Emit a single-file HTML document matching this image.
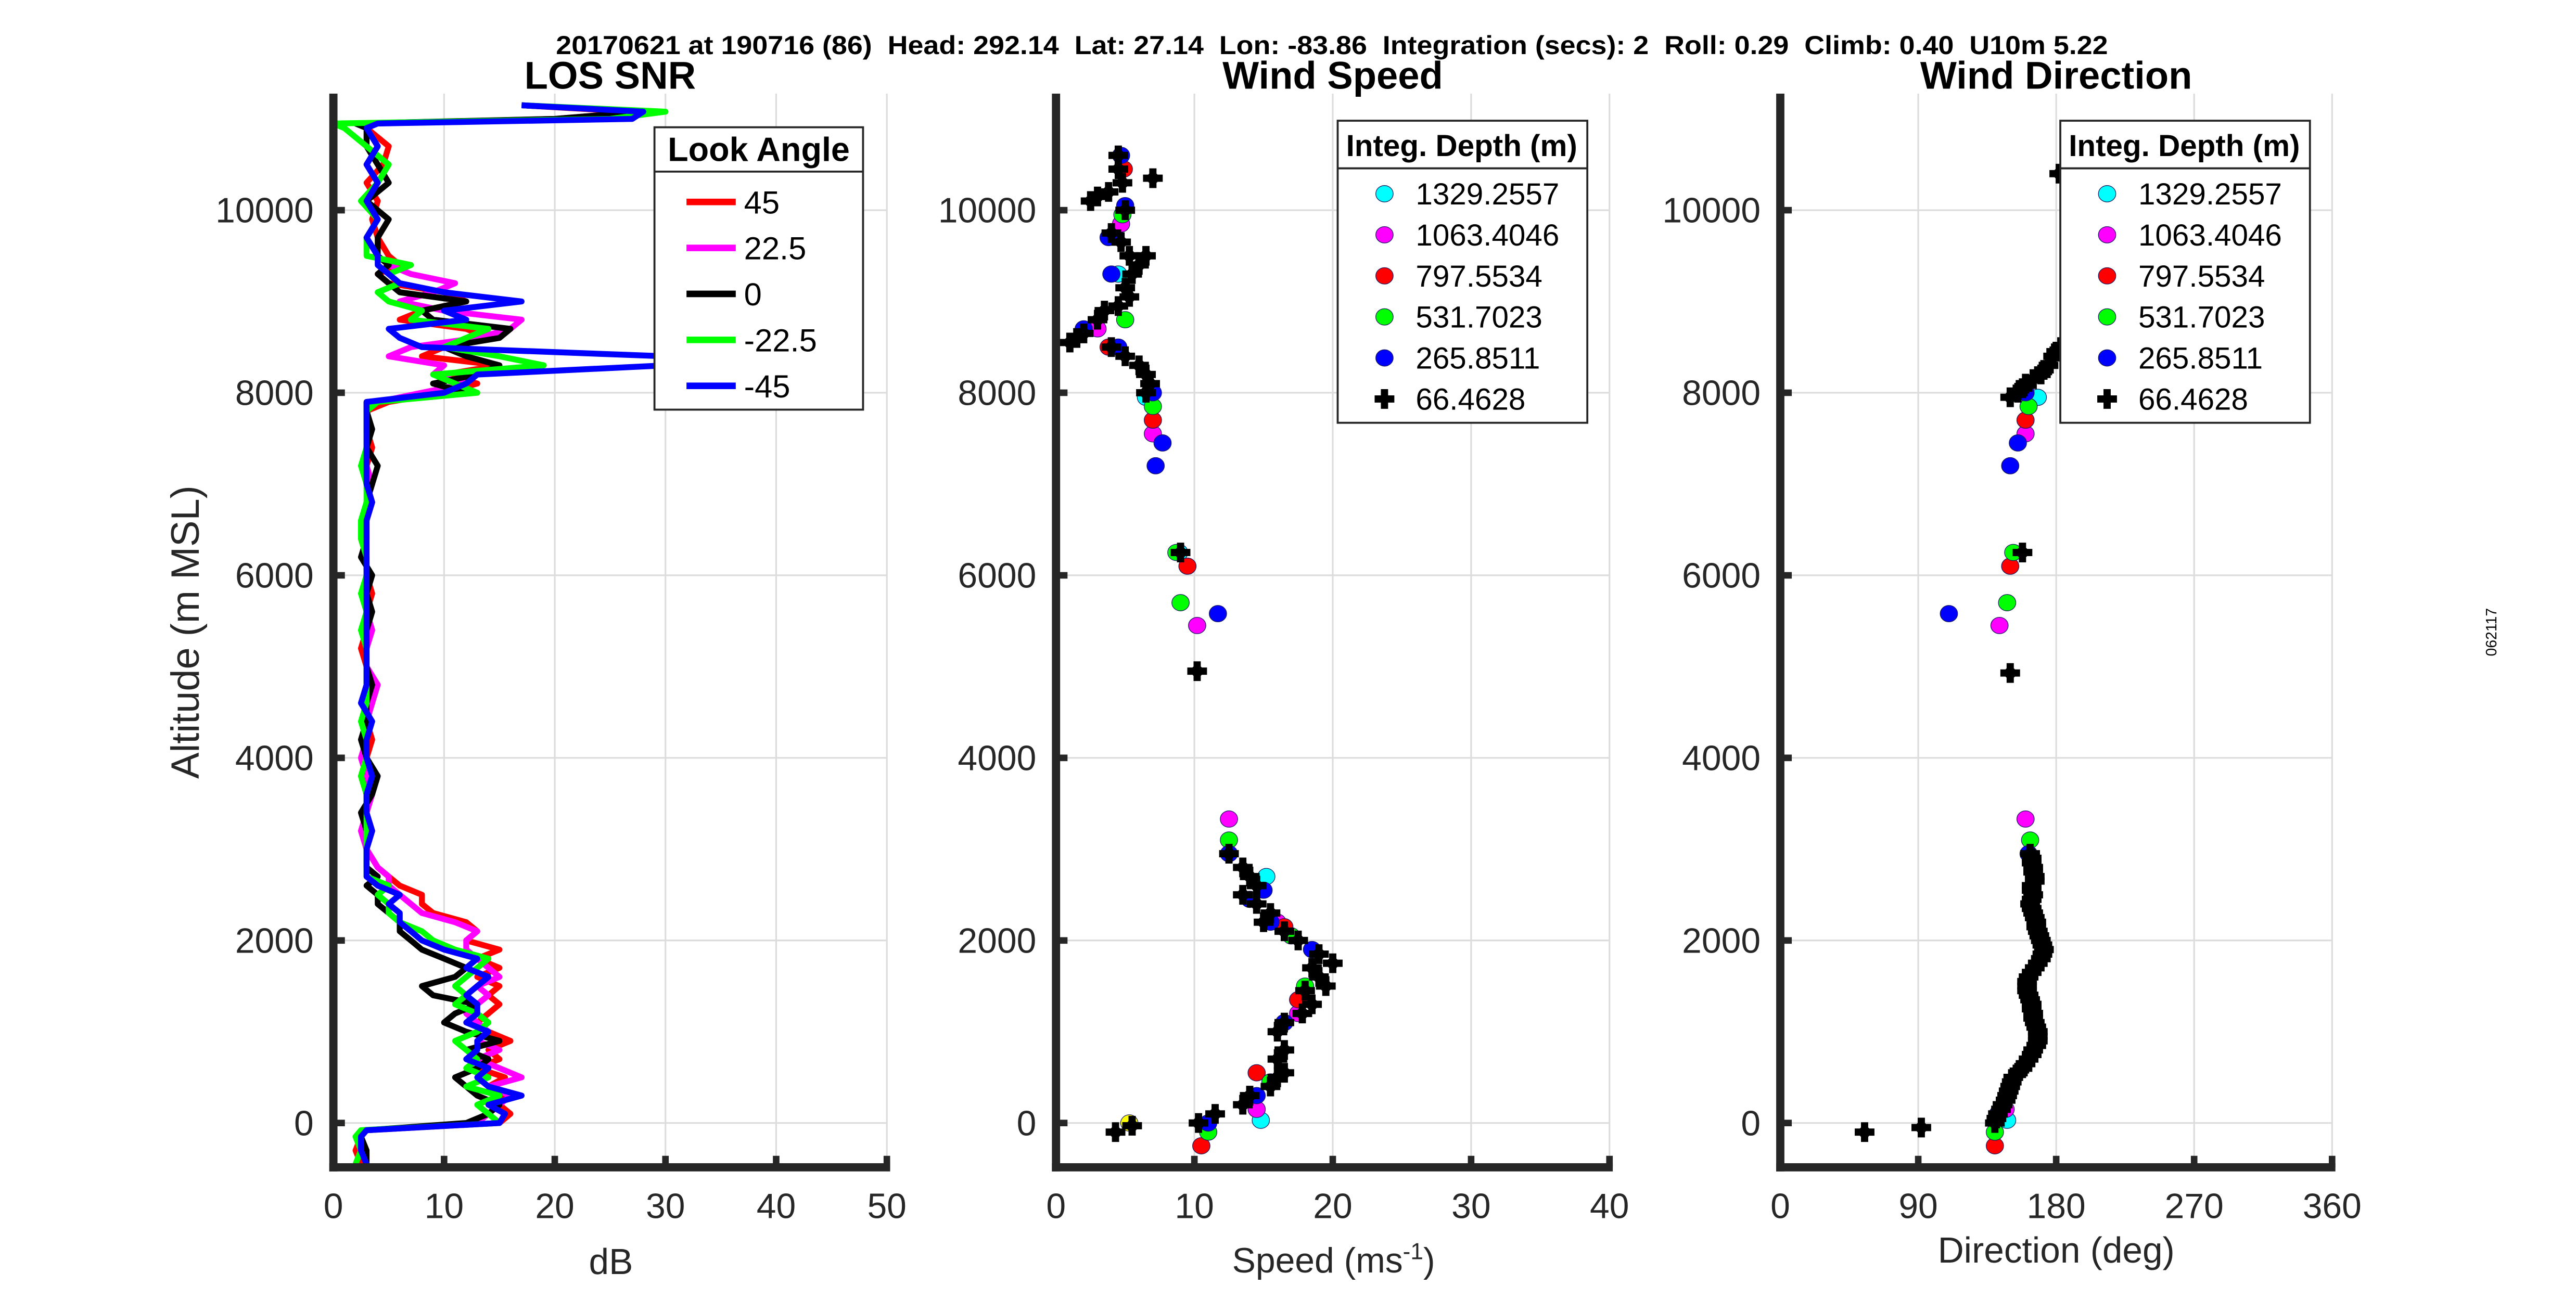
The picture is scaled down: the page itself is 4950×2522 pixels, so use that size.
<!DOCTYPE html>
<html><head><meta charset="utf-8"><style>
html,body{margin:0;padding:0;background:#fff;}
svg{display:block;}
text{font-family:"Liberation Sans",Arial,sans-serif;}
</style></head><body>
<svg id="fig" width="4950" height="2522" viewBox="0 0 1568.5 799.1" xmlns="http://www.w3.org/2000/svg">
<rect x="0" y="0" width="1569" height="800" fill="#fff"/>
<text x="811" y="33" font-size="16" font-weight="bold" text-anchor="middle" style="white-space:pre" textLength="945" lengthAdjust="spacingAndGlyphs">20170621 at 190716 (86)  Head: 292.14  Lat: 27.14  Lon: -83.86  Integration (secs): 2  Roll: 0.29  Climb: 0.40  U10m 5.22</text>
<text x="1520" y="385" font-size="9" text-anchor="middle" transform="rotate(-90 1520 385)">062117</text>
<g id="g1"></g><g id="g2"></g><g id="g3"></g>
</svg>
<script>
// ---- shared axis ----
const altTicks = [0,2000,4000,6000,8000,10000];
const snrTicks = [0,10,20,30,40,50];
const spdTicks = [0,10,20,30,40];
const dirTicks = [0,90,180,270,360];
// ---- LOS SNR data ----
const snrAlts = [-450,-300,-150,-80,0,100,200,300,400,500,600,700,800,900,1000,1100,1200,1300,1400,1500,1600,1700,1800,1900,2000,2100,2200,2300,2400,2500,2600,2700,2800,3000,3200,3400,3600,3800,4000,4200,4400,4600,4800,5000,5200,5400,5600,5800,6000,6200,6400,6600,6800,7000,7200,7400,7600,7800,7900,8000,8100,8200,8300,8400,8500,8600,8700,8800,8900,9000,9100,9200,9300,9400,9500,9700,9900,10100,10300,10500,10700,10900,10950,11000,11080,11150];
const snr45 = [2.5,2,2.5,3, 15,16,15,15.5,14,15.5,13,15,14,16,14,13,14,15,14,15,13,15,13,15,12,13,12,9,8,8,6,5,4, 3,3.5,3,3,2.5,3,3.5,3,3.5,3,3,2.5,3,3,3.5,3,3,2.5,3,3.5,3,3,3.5,3,3, 5,10,13,10,15,8,10,14,12,6,8,12,10,5,4,6,5, 4,3.5,4,3,4.5,5,3, 3,22,27,17];
const snr22 = [2,2.5,2,3, 13,14,15,16,14,17,15,13,15,13,14,13,12,13,14,13,15,14,13,12,12,13,11,8,7,6,5,5,4, 3,2.5,3,3.5,3,2.5,3,3,3.5,4,3,3,3.5,3,3,3,3,3,3,3,3.5,3,3,3,3, 4,8,12,9,10,5,7,13,16,17,10,6,9,11,7,5,4, 3,4,3,4,3,4,3, 3,20,28,17];
const snr0 = [3,3,2.5,3, 12,14,15,13,12,11,13,14,12,15,12,10,11,13,9,8,11,12,10,8,7,6,6,5,4,4,3,4,3, 3,3,2.5,3.5,4,3,2.5,3,3,3.5,3,3,3,3.5,3,3.5,2.5,3,3,3,3.5,4,3,3.5,3, 3,12,9,13,15,12,10,15,16,9,8,12,6,5,4,5,4, 4,5,3,5,4,3,3, 2,20,28,17];
const snrM22 = [2,2.5,2,2.5, 15,14,13,15,12,14,12,13,12,11,13,14,13,11,12,11,12,13,14,11,9,8,6,5,5,4,5,3,3, 3,3,3,3,2.5,3,3,2.5,3,3,3,3,2.5,3,2.5,3,3,2.5,2.5,3,3,2.5,3,3,3, 4,13,11,9,19,15,10,12,14,7,8,5,4,6,5,7,3, 3,4,2.5,4,5,3,1, 0,25,30,17];
const snrM45 = [3,2.5,2.5,3, 15,15.5,14,17,14,13,14,12,13,13,14,12,13,13,12,13,14,12,13,10,8,7,6,6,5,6,4,3,3, 3,3.5,3,3,3.5,3,3,3.5,2.5,3,3,3,3,3,3,3,3,3,3,3.5,3,3,3,3,3, 3,10,12,13,30,30,8,6,5,12,10,17,10,6,5,4,4, 3,4,3,4,3,4,3, 4,27,28,17];
const snrNames = ['45','22.5','0','-22.5','-45'];
const snrColors = ['#ff0000','#ff00ff','#000000','#00ff00','#0000ff'];
// ---- Wind speed data [speed, alt] ----
const spdBlack = [[4.5,10600],[4.5,10450],[4.8,10300],[7,10350],[3,10150],[2.5,10100],[3.8,10200],[5,10000],[4,9750],[4.7,9650],[5.3,9500],[6.5,9500],[6,9400],[5.5,9300],[5,9150],[5.3,9050],[4.5,8950],[3.5,8900],[3,8800],[2,8650],[1.5,8600],[1,8550],[4,8500],[5,8400],[6,8300],[6.5,8200],[6.8,8100],[6.5,8000],[9,6250],[10.2,4950],[4.3,-100],[5.5,-30],[10.3,0],[11.5,100],[13.5,200],[14,300],[15.5,400],[16,500],[16.5,550],[16,700],[16.5,800],[16,1000],[16.5,1100],[17.8,1200],[18.5,1300],[18,1450],[19.5,1500],[19,1600],[18.5,1700],[19,1850],[20,1750],[17.5,2000],[16.5,2100],[15,2200],[15.5,2300],[14.5,2400],[13.5,2500],[14.5,2600],[14,2700],[13.5,2800],[12.5,2950]];
const spdBlue = [[4.7,10600],[5,10050],[4,9300],[3.8,9700],[2,8700],[4.5,8500],[7,8000],[7.7,7450],[7.2,7200],[11.7,5580],[12.5,2950],[15.5,2200],[18.5,1900],[16.5,1100],[14.5,300],[11,0],[15,2550],[14,2450]];
const spdCyan = [[4.5,9300],[6.5,7950],[14.8,30],[15.2,2700],[17.5,1350],[8.9,6250]];
const spdMagenta = [[12.5,3330],[10.2,5450],[7,7550],[17.5,1200],[14.5,150],[16,2200],[3,8700],[4.7,9850]];
const spdRed = [[9.5,6100],[7,7700],[14.5,550],[10.5,-250],[16.5,2150],[17.5,1350],[3.8,8500],[4.9,10450]];
const spdGreen = [[9,5700],[12.5,3100],[7,7850],[11,-100],[15.5,450],[17,2050],[18,1500],[4.8,9950],[5,8800],[8.7,6250]];
const spdYellow = [[5.3,0]];
// ---- Wind direction data [dir, alt] ----
const dirBlack = [[55,-100],[92,-50],[140,0],[141,50],[142,100],[144,150],[145,200],[147,250],[148,300],[149,350],[150,400],[151,450],[152,500],[155,550],[158,600],[160,650],[162,700],[164,750],[165,800],[167,850],[168,900],[168,950],[168,1000],[167,1050],[166,1100],[165,1150],[165,1200],[164,1250],[164,1300],[163,1350],[162,1400],[161,1450],[161,1500],[161,1550],[162,1600],[164,1650],[166,1700],[168,1750],[170,1800],[171,1850],[172,1900],[171,1950],[170,2000],[169,2050],[168,2100],[167,2150],[167,2200],[166,2250],[165,2300],[164,2350],[163,2400],[164,2450],[165,2500],[164,2550],[164,2600],[166,2650],[166,2700],[165,2750],[165,2800],[164,2850],[164,2900],[163,2950],[150,4930],[158,6250],[182,10400],[150,7950],[155,8000],[158,8050],[160,8100],[165,8150],[170,8200],[175,8300],[178,8400],[180,8450],[183,8500],[172,8250]];
const dirBlue = [[110,5580],[150,7200],[155,7450],[162,2950],[142,100],[160,8000]];
const dirCyan = [[168,7950],[148,30]];
const dirMagenta = [[143,5450],[160,7550],[160,3330],[147,150]];
const dirRed = [[150,6100],[160,7700],[140,-250],[163,1350]];
const dirGreen = [[148,5700],[163,3100],[162,7850],[140,-100],[152,6250]];
const legendNames = ['1329.2557','1063.4046','797.5534','531.7023','265.8511','66.4628'];
const legendColors = ['#00ffff','#ff00ff','#ff0000','#00ff00','#0000ff','#000000'];

// ---- geometry ----
const NS='http://www.w3.org/2000/svg';
const TOP=57, BOT=711;
const yA = a => 684 - a*0.0556;
function mk(tag, attrs, parent){const e=document.createElementNS(NS,tag);for(const k in attrs)e.setAttribute(k,attrs[k]);parent.appendChild(e);return e;}
function axes(g, x0, x1, xs, ticks){
  for(const t of ticks){const x=xs(t);
    const gl=mk('line',{x1:x,y1:TOP,x2:x,y2:BOT,stroke:'#dcdcdc','stroke-width':1},g);
    
    
  }
  for(const a of altTicks){const y=yA(a);
    const gl=mk('line',{x1:x0,y1:y,x2:x1,y2:y,stroke:'#dcdcdc','stroke-width':1},g);
    
    
  }
}
function axisFrame(g,x0,x1,xs,ticks,labels,title){
  const ax=mk('line',{x1:x0,y1:TOP,x2:x0,y2:BOT+2.5,stroke:'#262626','stroke-width':5},g);
  
  
  const bx=mk('line',{x1:x0-2.5,y1:BOT,x2:x1+2,y2:BOT,stroke:'#262626','stroke-width':5},g);
  
  
  for(const a of altTicks){const y=yA(a);
    mk('line',{x1:x0,y1:y,x2:x0+7,y2:y,stroke:'#262626','stroke-width':4},g);
    const t=mk('text',{x:x0-12,y:y+7.5,'font-size':21.5,'text-anchor':'end',fill:'#262626'},g);t.textContent=a;
    
    
  }
  ticks.forEach((v,i)=>{const x=xs(v);
    mk('line',{x1:x,y1:BOT,x2:x,y2:BOT-7,stroke:'#262626','stroke-width':4},g);
    const t=mk('text',{x:x,y:742,'font-size':21.5,'text-anchor':'middle',fill:'#262626'},g);t.textContent=labels[i];
    
    
  });
  const tt=mk('text',{x:(x0+x1)/2,y:54,'font-size':23.5,'font-weight':'bold','text-anchor':'middle'},g);tt.textContent=title;
  
  
  return tt;
}
// ---- panel 1: SNR ----
const g1=document.getElementById('g1');
const xS = v => 203 + v*6.74;
axes(g1,203,540,xS,snrTicks);
const snrSeries=[snr45,snr22,snr0,snrM22,snrM45];
snrSeries.forEach((s,i)=>{
  const pts=s.map((v,j)=>xS(v).toFixed(1)+','+yA(snrAlts[j]).toFixed(1)).join(' ');
  const p=mk('polyline',{points:pts,fill:'none',stroke:snrColors[i],'stroke-width':3.6,'stroke-linejoin':'round'},g1);
  
  
});
axisFrame(g1,203,540,xS,snrTicks,snrTicks,'LOS SNR');
let t=mk('text',{x:372,y:776,'font-size':22,'text-anchor':'middle',fill:'#262626'},g1);t.textContent='dB';


t=mk('text',{x:0,y:0,'font-size':24,'text-anchor':'middle',fill:'#262626',transform:'translate(121 385) rotate(-90)'},g1);t.textContent='Altitude (m MSL)';


// legend SNR
const lg=mk('g',{},g1);


mk('rect',{x:398.5,y:77.5,width:127,height:172,fill:'#fff',stroke:'#262626','stroke-width':1.2},lg);
mk('line',{x1:398.5,y1:104.5,x2:525.5,y2:104.5,stroke:'#262626','stroke-width':1.2},lg);
t=mk('text',{x:462,y:98,'font-size':20.5,'font-weight':'bold','text-anchor':'middle'},lg);t.textContent='Look Angle';


snrNames.forEach((n,i)=>{const y=123+i*28;
  mk('line',{x1:418,y1:y,x2:448,y2:y,stroke:snrColors[i],'stroke-width':4},lg);
  const tx=mk('text',{x:453,y:y+7,'font-size':19.5},lg);tx.textContent=n;
  
  
});
// ---- scatter helpers ----
function dot(g,x,y,c,nm){
  const e=mk('ellipse',{cx:x,cy:y,rx:5.3,ry:5,fill:c,stroke:'#1a1a60','stroke-width':0.4},g);
  
  
}
function plus(g,x,y,nm){
  const e=mk('path',{d:`M${x-6},${y-2.2}h3.8v-3.8h4.4v3.8h3.8v4.4h-3.8v3.8h-4.4v-3.8h-3.8z`,fill:'#000'},g);
  mk('circle',{cx:x,cy:y,r:3.6,fill:'#000'},g);
  
  
}
function depthLegend(g,x0){
  const lg=mk('g',{},g);
  
  
  mk('rect',{x:x0+0.5,y:73.5,width:152,height:184,fill:'#fff',stroke:'#262626','stroke-width':1.2},lg);
  mk('line',{x1:x0+0.5,y1:102.5,x2:x0+152.5,y2:102.5,stroke:'#262626','stroke-width':1.2},lg);
  let t=mk('text',{x:x0+76,y:95,'font-size':18.5,'font-weight':'bold','text-anchor':'middle'},lg);t.textContent='Integ. Depth (m)';
  
  
  legendNames.forEach((n,i)=>{const y=118+i*25;
    if(i<5) mk('ellipse',{cx:x0+29,cy:y,rx:5.3,ry:5,fill:legendColors[i],stroke:'#1a1a60','stroke-width':0.4},lg);
    else {mk('path',{d:`M${x0+23},${y-2.2}h3.8v-3.8h4.4v3.8h3.8v4.4h-3.8v3.8h-4.4v-3.8h-3.8z`,fill:'#000'},lg);}
    const tx=mk('text',{x:x0+48,y:y+6.5,'font-size':18.5},lg);tx.textContent=n;
    
    
  });
}
// ---- panel 2: speed ----
const g2=document.getElementById('g2');
const xSp = v => 643 + v*8.425;
axes(g2,643,980,xSp,spdTicks);
[[spdCyan,'#00ffff'],[spdMagenta,'#ff00ff'],[spdRed,'#ff0000'],[spdGreen,'#00ff00'],[spdBlue,'#0000ff'],[spdYellow,'#ffff00']].forEach(([arr,c])=>{
  arr.forEach(p=>dot(g2,xSp(p[0]),yA(p[1]),c,'speed-point'));
});
spdBlack.forEach(p=>plus(g2,xSp(p[0]),yA(p[1]),'speed-point-66m'));
axisFrame(g2,643,980,xSp,spdTicks,spdTicks,'Wind Speed');
t=mk('text',{x:812,y:775,'font-size':21.5,'text-anchor':'middle',fill:'#262626'},g2);
t.innerHTML='Speed (ms<tspan dy="-8" font-size="14">-1</tspan><tspan dy="8">)</tspan>';


depthLegend(g2,814);
// ---- panel 3: direction ----
const g3=document.getElementById('g3');
const xD = v => 1084 + v*0.9333;
axes(g3,1084,1420,xD,dirTicks);
[[dirCyan,'#00ffff'],[dirMagenta,'#ff00ff'],[dirRed,'#ff0000'],[dirGreen,'#00ff00'],[dirBlue,'#0000ff']].forEach(([arr,c])=>{
  arr.forEach(p=>dot(g3,xD(p[0]),yA(p[1]),c,'direction-point'));
});
dirBlack.forEach(p=>plus(g3,xD(p[0]),yA(p[1]),'direction-point-66m'));
axisFrame(g3,1084,1420,xD,dirTicks,dirTicks,'Wind Direction');
t=mk('text',{x:1252,y:769,'font-size':22,'text-anchor':'middle',fill:'#262626'},g3);t.textContent='Direction (deg)';


depthLegend(g3,1254);
</script>
</body></html>
